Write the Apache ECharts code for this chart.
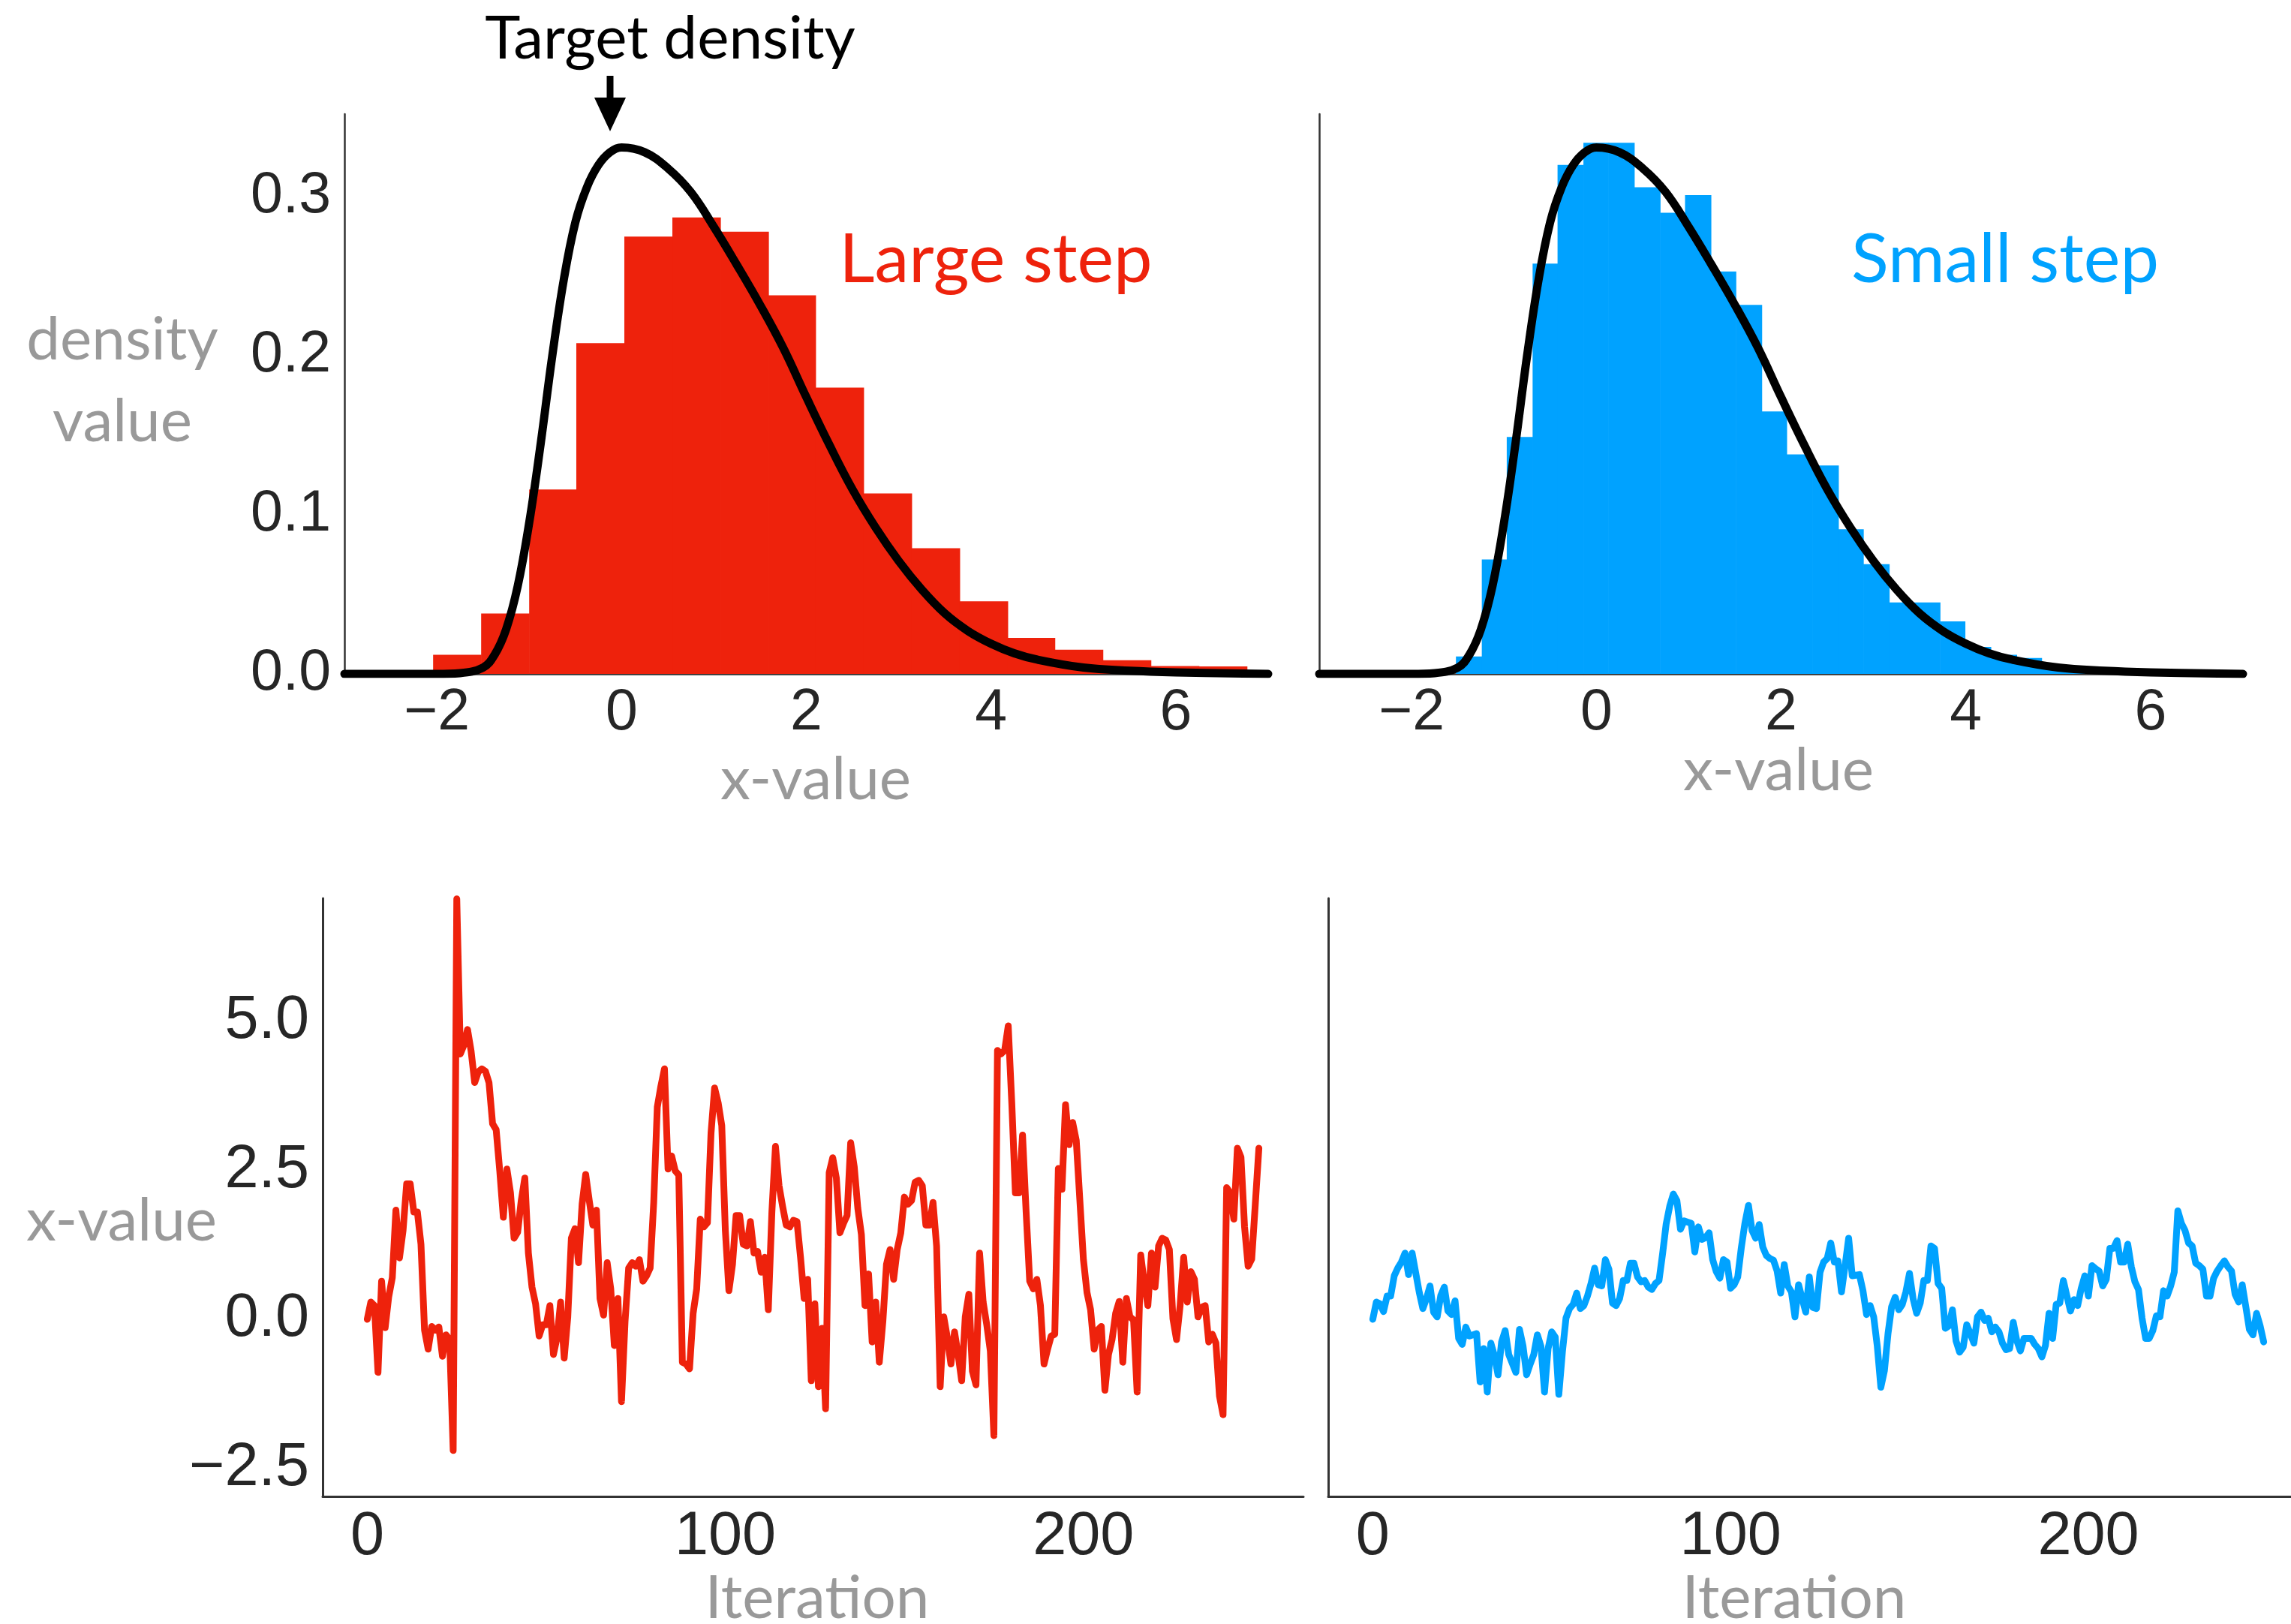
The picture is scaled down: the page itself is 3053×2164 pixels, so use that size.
<!DOCTYPE html>
<html>
<head>
<meta charset="utf-8">
<script src="https://cdn.jsdelivr.net/npm/echarts@6/dist/echarts.min.js"></script>
<style>
  html, body { margin: 0; padding: 0; background: #fff; }
  #main { width: 3053px; height: 2164px; }
</style>
</head>
<body>
<div id="main"></div>
<script>
// target density
var densityX = [-3, -2, -1.75, -1.5, -1.375, -1.25, -1.125, -1.0, -0.875, -0.75, -0.625, -0.5, -0.375, -0.25, -0.125,
  0, 0.25, 0.5, 0.75, 1.0, 1.25, 1.5, 1.75, 2.0, 2.25, 2.5, 2.75, 3.0, 3.25, 3.5, 3.75, 4.0, 4.25, 4.5, 5.0, 5.5, 6.0, 7.0];
var densityY = [0, 0, 0.0005, 0.004, 0.012, 0.028, 0.055, 0.095, 0.145, 0.2, 0.248, 0.284, 0.306, 0.320, 0.328,
  0.331, 0.328, 0.318, 0.303, 0.281, 0.257, 0.232, 0.205, 0.174, 0.144, 0.116, 0.092, 0.071, 0.053, 0.038, 0.027, 0.019, 0.013, 0.009, 0.004, 0.002, 0.001, 0];

// histograms
var largeEdges = [-2.04, -1.52, -1.0, -0.49, 0.03, 0.55, 1.07, 1.59, 2.1, 2.62, 3.14, 3.66, 4.18, 4.69, 5.21, 5.73, 6.25, 6.77];
var largeHeights = [0.012, 0.038, 0.116, 0.208, 0.275, 0.287, 0.278, 0.238, 0.18, 0.1135, 0.079, 0.0457, 0.0226, 0.0152, 0.0086, 0.005, 0.0047];
var smallEdges = [-1.52, -1.24, -0.97, -0.69, -0.42, -0.14, 0.13, 0.41, 0.69, 0.96, 1.24, 1.51, 1.79, 2.06, 2.34, 2.62, 2.89,
  3.17, 3.44, 3.72, 3.99, 4.27, 4.55, 4.82, 5.1, 5.37, 5.65];
var smallHeights = [0.011, 0.072, 0.149, 0.258, 0.32, 0.334, 0.334, 0.306, 0.29, 0.301, 0.253, 0.232, 0.165, 0.138, 0.131,
  0.091, 0.069, 0.045, 0.045, 0.033, 0.017, 0.012, 0.01, 0.004, 0.002, 0.001];

// chains
var largeTrace = [
  0.0, 0.29, 0.23, -0.89, 0.64, -0.14, 0.38, 0.70, 1.83, 1.03,
  1.49, 2.27, 2.27, 1.80, 1.80, 1.26, -0.18, -0.50, -0.12, -0.18,
  -0.13, -0.62, -0.26, -0.34, -2.2, 7.05, 4.45, 4.6, 4.86, 4.5,
  3.97, 4.15, 4.2, 4.16, 3.97, 3.28, 3.18, 2.49, 1.71, 2.52,
  2.12, 1.36, 1.46, 1.99, 2.37, 1.11, 0.54, 0.26, -0.28, -0.09,
  -0.09, 0.23, -0.59, -0.31, 0.29, -0.65, 0.04, 1.36, 1.52, 0.95,
  1.93, 2.43, 1.99, 1.58, 1.83, 0.35, 0.07, 0.95, 0.51, -0.44,
  0.35, -1.38, -0.03, 0.86, 0.95, 0.89, 1.0, 0.64, 0.73, 0.86,
  1.96, 3.56, 3.91, 4.2, 2.52, 2.74, 2.49, 2.42, -0.72, -0.75,
  -0.83, 0.10, 0.51, 1.68, 1.55, 1.62, 3.12, 3.88, 3.63, 3.25,
  1.49, 0.48, 0.92, 1.74, 1.74, 1.26, 1.23, 1.64, 1.11, 1.14,
  0.79, 1.04, 0.16, 1.8, 2.9, 2.24, 1.89, 1.58, 1.55, 1.66,
  1.64, 1.04, 0.35, 0.67, -1.03, 0.26, -1.13, -0.15, -1.5, 2.46,
  2.71, 2.37, 1.45, 1.61, 1.74, 2.96, 2.56, 1.86, 1.42, 0.23,
  0.76, -0.38, 0.29, -0.72, -0.03, 0.92, 1.17, 0.67, 1.17, 1.45,
  2.05, 1.93, 1.99, 2.3, 2.33, 2.24, 1.58, 1.58, 1.96, 1.23,
  -1.13, 0.04, -0.31, -0.75, -0.21, -0.59, -1.03, 0.04, 0.42, -0.87,
  -1.1, 1.11, 0.29, -0.09, -0.53, -1.95, 4.51, 4.45, 4.51, 4.92,
  3.62, 2.12, 2.12, 3.09, 1.80, 0.64, 0.51, 0.67, 0.23, -0.75,
  -0.50, -0.28, -0.25, 2.53, 2.18, 3.6, 2.93, 3.3, 3.0, 2.0,
  1.0, 0.45, 0.16, -0.50, -0.18, -0.12, -1.19, -0.59, -0.34, 0.10,
  0.30, -0.72, 0.35, 0.04, -0.01, -1.22, 1.08, 0.60, 0.23, 1.11,
  0.54, 1.23, 1.36, 1.33, 1.17, 0.01, -0.34, 0.23, 1.04, 0.29,
  0.80, 0.67, 0.04, 0.20, 0.23, -0.38, -0.25, -0.40, -1.29, -1.6,
  2.21, 2.12, 1.68, 2.87, 2.72, 1.55, 0.89, 1.01, 1.93, 2.87
];
var smallTrace = [
  0.0, 0.29, 0.26, 0.13, 0.39, 0.39, 0.73, 0.86, 0.96, 1.11,
  0.75, 1.11, 0.78, 0.45, 0.18, 0.35, 0.56, 0.12, 0.04, 0.40,
  0.54, 0.14, 0.08, 0.31, -0.32, -0.42, -0.13, -0.28, -0.26, -0.24,
  -1.05, -0.49, -1.22, -0.40, -0.61, -0.93, -0.38, -0.19, -0.59, -0.74,
  -0.89, -0.17, -0.45, -0.93, -0.75, -0.59, -0.26, -0.45, -1.22, -0.49,
  -0.21, -0.30, -1.26, -0.55, 0.02, 0.18, 0.25, 0.44, 0.18, 0.23,
  0.39, 0.60, 0.86, 0.58, 0.56, 1.0, 0.84, 0.27, 0.23, 0.35,
  0.65, 0.65, 0.94, 0.94, 0.71, 0.63, 0.65, 0.54, 0.50, 0.60,
  0.65, 1.1, 1.6, 1.9, 2.10, 1.99, 1.51, 1.65, 1.63, 1.61,
  1.13, 1.55, 1.34, 1.37, 1.45, 1.0, 0.8, 0.69, 1.00, 0.96,
  0.52, 0.58, 0.71, 1.2, 1.61, 1.91, 1.49, 1.36, 1.59, 1.21,
  1.07, 1.02, 0.99, 0.81, 0.44, 0.92, 0.56, 0.46, 0.04, 0.58,
  0.35, 0.12, 0.71, 0.2, 0.18, 0.79, 0.96, 1.02, 1.28, 0.96,
  0.98, 0.46, 0.9, 1.36, 0.73, 0.74, 0.75, 0.48, 0.08, 0.23,
  0.04, -0.45, -1.14, -0.86, -0.24, 0.21, 0.37, 0.16, 0.25, 0.46,
  0.77, 0.35, 0.10, 0.27, 0.65, 0.65, 1.23, 1.19, 0.60, 0.52,
  -0.15, -0.11, 0.16, -0.36, -0.55, -0.47, -0.09, -0.24, -0.40, 0.04,
  0.12, -0.02, 0.02, -0.21, -0.13, -0.21, -0.40, -0.51, -0.49, -0.05,
  -0.36, -0.53, -0.32, -0.32, -0.32, -0.42, -0.49, -0.63, -0.44, 0.10,
  -0.32, 0.25, 0.27, 0.65, 0.39, 0.14, 0.33, 0.23, 0.52, 0.73,
  0.39, 0.90, 0.85, 0.81, 0.56, 0.67, 1.19, 1.19, 1.32, 0.96,
  0.96, 1.26, 0.88, 0.63, 0.50, 0.02, -0.32, -0.32, -0.19, 0.06,
  0.04, 0.48, 0.39, 0.56, 0.79, 1.82, 1.61, 1.49, 1.28, 1.23,
  0.94, 0.90, 0.84, 0.39, 0.39, 0.69, 0.81, 0.90, 0.98, 0.88,
  0.81, 0.42, 0.29, 0.58, 0.21, -0.17, -0.26, 0.10, -0.11, -0.38
];

// tick labels
var histXTicks = [-2, 0, 2, 4, 6];
var histYTicks = [0, 0.1, 0.2, 0.3];
var traceXTicks = [0, 100, 200];
var traceYTicks = [-2.5, 0, 2.5, 5];

var RED = '#EE220C';
var BLUE = '#00A2FF';
var TICK = '#262626';
var GREY = '#999999';
var LABEL_FONT = 'Lato, "Open Sans", sans-serif';
var TICK_FONT = '"Liberation Sans", Arial, sans-serif';

function minus(s) { return String(s).replace('-', '\u2212'); }

function pairs(xs, ys) { return xs.map(function (x, i) { return [x, ys[i]]; }); }
function indexed(ys) { return ys.map(function (y, i) { return [i, y]; }); }
function bins(edges, heights) {
  return heights.map(function (h, i) { return [edges[i], edges[i + 1], h]; });
}

function histRender(color) {
  return function (params, api) {
    var p0 = api.coord([api.value(0), api.value(2)]);
    var p1 = api.coord([api.value(1), 0]);
    return {
      type: 'rect',
      shape: { x: p0[0], y: p0[1], width: p1[0] - p0[0] + 0.6, height: p1[1] - p0[1] },
      style: { fill: color }
    };
  };
}

function xAxis(grid, min, max, ticks, size, lineW, fmt) {
  return {
    type: 'value', gridIndex: grid, min: min, max: max,
    axisLine: { show: true, onZero: false, lineStyle: { color: '#333', width: lineW } },
    axisTick: { show: false },
    splitLine: { show: false },
    axisLabel: {
      customValues: ticks, color: TICK, fontSize: size, fontFamily: TICK_FONT, margin: 14,
      formatter: fmt
    }
  };
}

function yAxis(grid, min, max, ticks, size, lineW, showLabels, fmt) {
  return {
    type: 'value', gridIndex: grid, min: min, max: max,
    axisLine: { show: true, onZero: false, lineStyle: { color: '#333', width: lineW } },
    axisTick: { show: false },
    splitLine: { show: false },
    axisLabel: {
      show: showLabels, customValues: ticks, color: TICK, fontSize: size, fontFamily: TICK_FONT, margin: 18,
      formatter: fmt
    }
  };
}

var intFmt = function (v) { return minus(Math.round(v)); };
var oneDec = function (v) { return minus(v.toFixed(1)); };

var chart = echarts.init(document.getElementById('main'));

var option = {
  animation: false,
  backgroundColor: '#fff',
  grid: [
    { left: 459, top: 152, width: 1231, height: 746, containLabel: false, outerBoundsMode: 'none' },
    { left: 1758, top: 152, width: 1231, height: 746, containLabel: false, outerBoundsMode: 'none' },
    { left: 430, top: 1197, width: 1307, height: 797, containLabel: false, outerBoundsMode: 'none' },
    { left: 1770, top: 1197, width: 1306, height: 797, containLabel: false, outerBoundsMode: 'none' }
  ],
  xAxis: [
    xAxis(0, -3, 7, histXTicks, 77, 2.5, intFmt),
    xAxis(1, -3, 7, histXTicks, 77, 2.5, intFmt),
    xAxis(2, -12.45, 261.45, traceXTicks, 81, 3, intFmt),
    xAxis(3, -12.45, 261.45, traceXTicks, 81, 3, intFmt)
  ],
  yAxis: [
    yAxis(0, 0, 0.352, histYTicks, 77, 2.5, true, oneDec),
    yAxis(1, 0, 0.352, histYTicks, 77, 2.5, false, oneDec),
    yAxis(2, -2.97, 7.06, traceYTicks, 81, 3, true, oneDec),
    yAxis(3, -2.97, 7.06, traceYTicks, 81, 3, false, oneDec)
  ],
  series: [
    {
      type: 'custom', xAxisIndex: 0, yAxisIndex: 0, z: 2,
      data: bins(largeEdges, largeHeights), encode: { x: [0, 1], y: 2 },
      renderItem: histRender(RED)
    },
    {
      type: 'custom', xAxisIndex: 1, yAxisIndex: 1, z: 2,
      data: bins(smallEdges, smallHeights), encode: { x: [0, 1], y: 2 },
      renderItem: histRender(BLUE)
    },
    {
      type: 'line', xAxisIndex: 0, yAxisIndex: 0, z: 3,
      data: pairs(densityX, densityY), smooth: 0.4, showSymbol: false,
      lineStyle: { color: '#000', width: 11, cap: 'round', join: 'round' }
    },
    {
      type: 'line', xAxisIndex: 1, yAxisIndex: 1, z: 3,
      data: pairs(densityX, densityY), smooth: 0.4, showSymbol: false,
      lineStyle: { color: '#000', width: 11, cap: 'round', join: 'round' }
    },
    {
      type: 'line', xAxisIndex: 2, yAxisIndex: 2, z: 3, clip: true,
      data: indexed(largeTrace), showSymbol: false,
      lineStyle: { color: RED, width: 9, cap: 'round', join: 'round' }
    },
    {
      type: 'line', xAxisIndex: 3, yAxisIndex: 3, z: 3, clip: true,
      data: indexed(smallTrace), showSymbol: false,
      lineStyle: { color: BLUE, width: 9, cap: 'round', join: 'round' }
    }
  ],
  graphic: [
    { type: 'text', x: 893, y: 52, style: { text: 'Target density', fill: '#000', font: '80px ' + LABEL_FONT, textAlign: 'center', textVerticalAlign: 'middle' } },
    { type: 'line', shape: { x1: 813, y1: 101, x2: 813, y2: 138 }, style: { stroke: '#000', lineWidth: 9 } },
    { type: 'polygon', shape: { points: [[792, 130], [834, 130], [813, 175]] }, style: { fill: '#000' } },
    { type: 'text', x: 1327, y: 346, style: { text: 'Large step', fill: RED, font: '92px ' + LABEL_FONT, textAlign: 'center', textVerticalAlign: 'middle' } },
    { type: 'text', x: 2672, y: 346, style: { text: 'Small step', fill: BLUE, font: '92px ' + LABEL_FONT, textAlign: 'center', textVerticalAlign: 'middle' } },
    { type: 'text', x: 163, y: 508, style: { text: 'density\nvalue', fill: GREY, font: '80px ' + LABEL_FONT, lineHeight: 109, textAlign: 'center', textVerticalAlign: 'middle' } },
    { type: 'text', x: 1087, y: 1039, style: { text: 'x-value', fill: GREY, font: '80px ' + LABEL_FONT, textAlign: 'center', textVerticalAlign: 'middle' } },
    { type: 'text', x: 2370, y: 1027, style: { text: 'x-value', fill: GREY, font: '80px ' + LABEL_FONT, textAlign: 'center', textVerticalAlign: 'middle' } },
    { type: 'text', x: 162, y: 1627, style: { text: 'x-value', fill: GREY, font: '80px ' + LABEL_FONT, textAlign: 'center', textVerticalAlign: 'middle' } },
    { type: 'text', x: 1089, y: 2130, style: { text: 'Iteration', fill: GREY, font: '80px ' + LABEL_FONT, textAlign: 'center', textVerticalAlign: 'middle' } },
    { type: 'text', x: 2391, y: 2130, style: { text: 'Iteration', fill: GREY, font: '80px ' + LABEL_FONT, textAlign: 'center', textVerticalAlign: 'middle' } }
  ]
};

chart.setOption(option);
</script>
</body>
</html>
